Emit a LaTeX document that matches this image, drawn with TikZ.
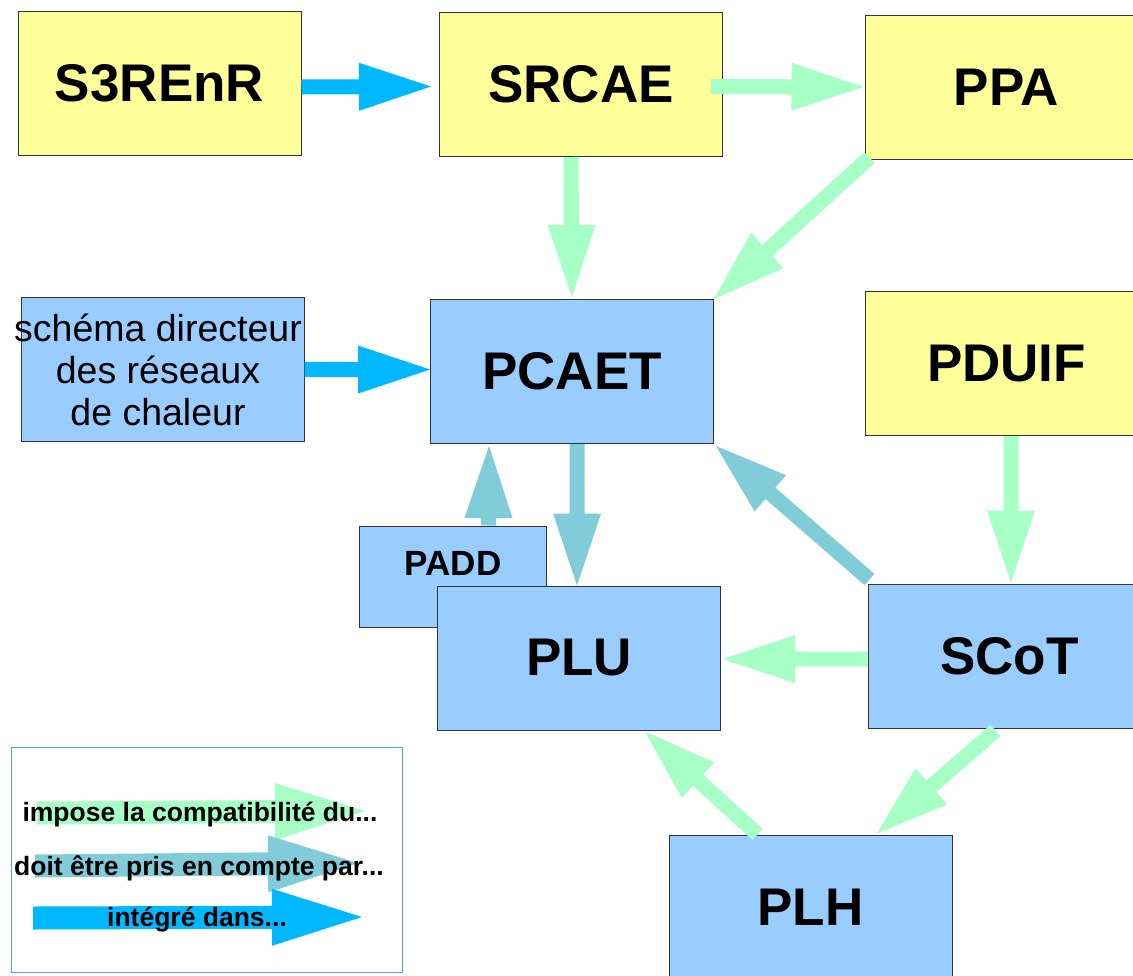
\documentclass[tikz,border=0pt]{standalone}
\usepackage{fontspec}
\setmainfont{Liberation Sans}
\usetikzlibrary{calc}
\definecolor{paleyellow}{HTML}{FFFF99}
\definecolor{paleblue}{HTML}{99CCFF}
\definecolor{boxline}{HTML}{333333}
\definecolor{mint}{HTML}{A6FFC4}
\definecolor{tealish}{HTML}{80CCD9}
\definecolor{skyblue}{HTML}{00B8FF}
\definecolor{legendline}{HTML}{4DA6DE}

% block arrow: colour, from, to, shaft width, head width, head length
\newcommand\fatarrow[6]{%
  \coordinate (fa-s) at #2;
  \coordinate (fa-e) at #3;
  \coordinate (fa-h) at ($(fa-e)!#6!(fa-s)$);
  \fill[#1] ($(fa-s)!#4/2!90:(fa-e)$) -- ($(fa-h)!#4/2!90:(fa-e)$)
    -- ($(fa-h)!#5/2!90:(fa-e)$) -- (fa-e) -- ($(fa-h)!#5/2!-90:(fa-e)$)
    -- ($(fa-h)!#4/2!-90:(fa-e)$) -- ($(fa-s)!#4/2!-90:(fa-e)$) -- cycle;
}
\newcommand\linkarrow[3]{\fatarrow{#1}{#2}{#3}{15pt}{48pt}{72pt}}
\newcommand\legendarrow[3]{\fatarrow{#1}{#2}{#3}{23pt}{57pt}{90pt}}

\tikzset{
  box/.style={draw=boxline, line width=1pt, inner sep=0pt,
    minimum width=283pt, minimum height=144pt,
    font=\bfseries\fontsize{53}{60}\selectfont},
  planyellow/.style={box, fill=paleyellow},
  planblue/.style={box, fill=paleblue},
  legendtext/.style={font=\bfseries\fontsize{26.5}{30}\selectfont}
}

\begin{document}
\begin{tikzpicture}[x=1pt,y=-1pt]
\useasboundingbox (0,0) rectangle (1133,975);
\clip (0,0) rectangle (1133,975);
\fill[white] (0,0) rectangle (1133,975);

% regional / upper plans
\node[planyellow] (s3renr) at (159.5,83) {S3REnR};
\node[planyellow] (srcae) at (581,84.5) {SRCAE};
\node[planyellow] (ppa) at (1006.5,87) {PPA};
\node[planyellow] (pduif) at (1006.5,363.5) {PDUIF};

% local plans
\node[planblue] (schema) at (162.5,369.5) {};
\node[align=center, font=\fontsize{37.5}{42}\selectfont] (schematext) at (158,370)
  {schéma directeur\\des réseaux\\de chaleur};
\node[planblue] (pcaet) at (572,371.5) {PCAET};
\node[planblue, minimum width=187pt, minimum height=101pt] (padd) at (452.5,576.5) {};
\node[font=\bfseries\fontsize{35}{40}\selectfont] (paddtext) at (453,563) {PADD};
\node[planblue] (plu) at (579,658) {PLU};
\node[planblue] (scot) at (1009.5,656) {SCoT};
\node[planblue] (plh) at (810.5,907) {PLH};

% relations
\linkarrow{skyblue}{($(s3renr.east)+(0,4)$)}{($(srcae.west)+(-8,2)$)}
\linkarrow{mint}{($(srcae.east)+(-12,2)$)}{($(ppa.west)+(-1,0)$)}
\linkarrow{mint}{($(srcae.south)+(-10,0)$)}{($(pcaet.north)+(0,-2)$)}
\linkarrow{mint}{($(ppa.south west)+(5,-2)$)}{(pcaet.north east)}
\linkarrow{skyblue}{(schema.east)}{($(pcaet.west)+(0,-2)$)}
\linkarrow{tealish}{($(pcaet.south)+(5,0)$)}{($(plu.north)+(-2,0)$)}
\linkarrow{tealish}{($(padd.north)+(36,0)$)}{($(pcaet.south)+(-83,2)$)}
\linkarrow{tealish}{($(scot.north west)+(2,-4)$)}{($(pcaet.south east)+(2,2)$)}
\linkarrow{mint}{($(pduif.south)+(4.5,0)$)}{($(scot.north)+(1.5,-1)$)}
\linkarrow{mint}{($(scot.west)+(0,3)$)}{($(plu.east)+(2,1)$)}
\linkarrow{mint}{($(scot.south)+(-14,2)$)}{($(plh.north)+(66.5,-1)$)}
\linkarrow{mint}{($(plh.north)+(-53,0)$)}{($(plu.south)+(66,1)$)}

% legend
\node[draw=legendline, line width=1pt, minimum width=391pt, minimum height=225pt,
  inner sep=0pt] (legend) at (206.5,860) {};
\coordinate (lg1s) at (37,813);
\coordinate (lg1e) at (365,811);
\coordinate (lg2s) at (35,866);
\coordinate (lg2e) at (358,863);
\coordinate (lg3s) at (33,918);
\coordinate (lg3e) at (362,917);
\legendarrow{mint}{(lg1s)}{(lg1e)}
\legendarrow{tealish}{(lg2s)}{(lg2e)}
\legendarrow{skyblue}{(lg3s)}{(lg3e)}
\node[legendtext] (lg1) at (200,815) {impose la compatibilité du...};
\node[legendtext] (lg2) at (199,868) {doit être pris en compte par...};
\node[legendtext] (lg3) at (197,920) {intégré dans...};
\end{tikzpicture}
\end{document}
